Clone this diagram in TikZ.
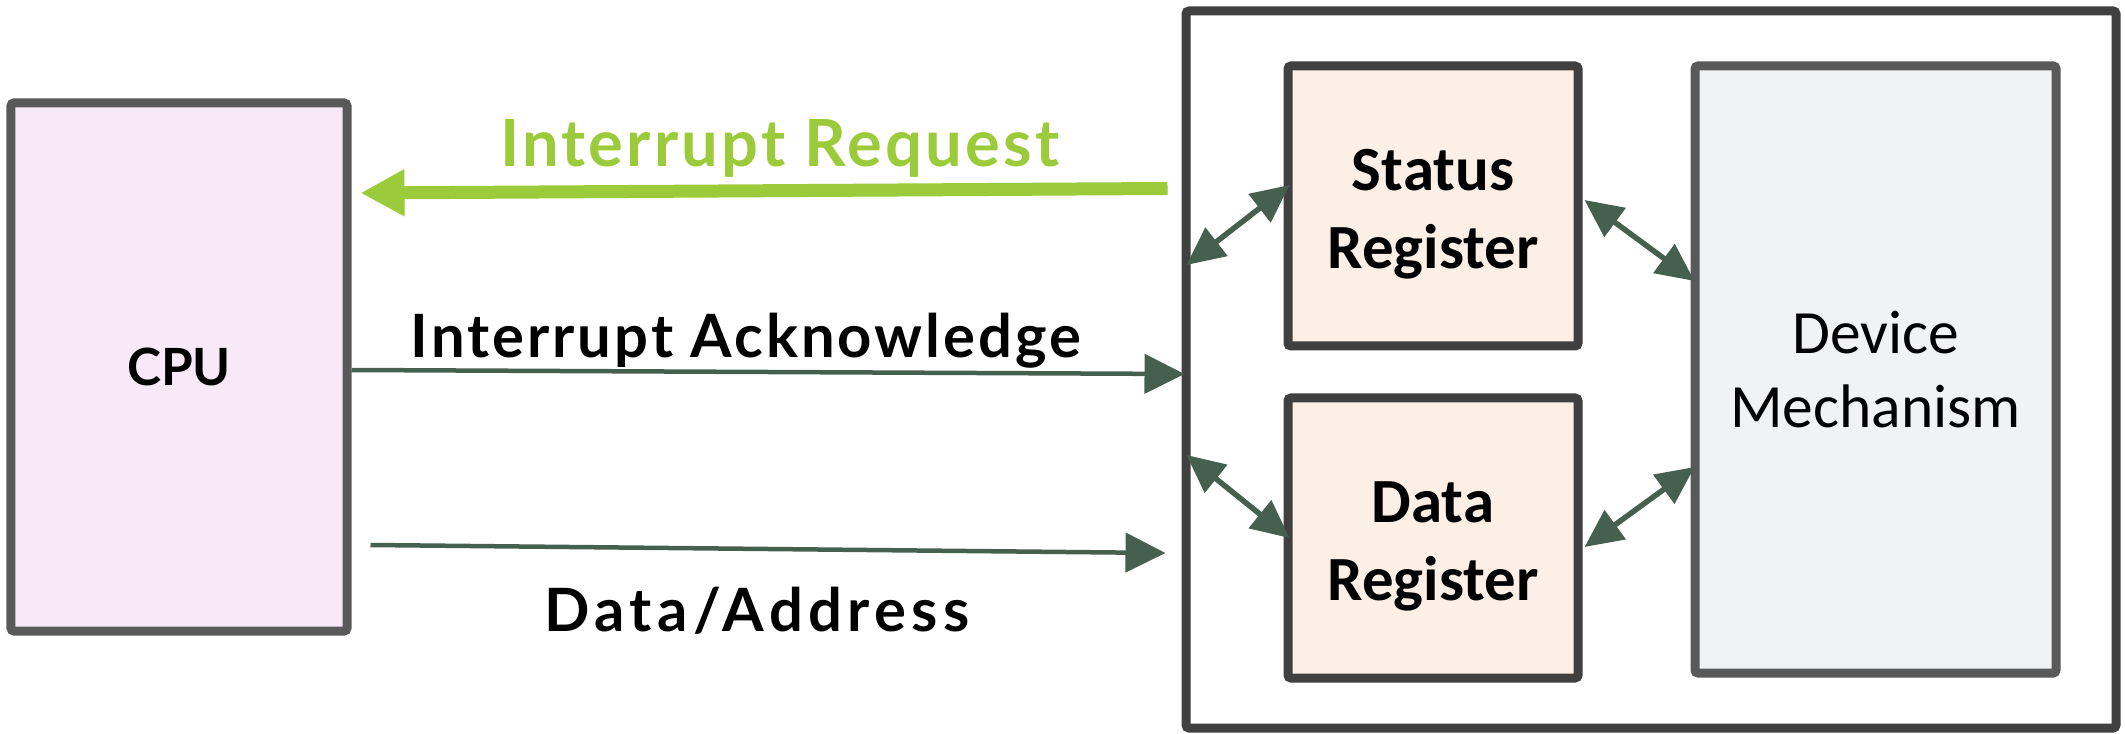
\documentclass[tikz,border=0pt]{standalone}
\usepackage{fontspec}
\setmainfont{Lato}
\newfontfamily\lblfont[LetterSpace=5]{Lato}
\newfontfamily\regfont{Carlito}
\usetikzlibrary{arrows.meta}

\definecolor{cpufill}{HTML}{F8E9F8}
\definecolor{regfill}{HTML}{FCEFE6}
\definecolor{mechfill}{HTML}{F1F2F4}
\definecolor{boxgray}{HTML}{595959}
\definecolor{boxdark}{HTML}{404040}
\definecolor{irqgreen}{HTML}{9BCB3B}
\definecolor{busgreen}{HTML}{466050}

\begin{document}
\begin{tikzpicture}[>={Triangle[length=4mm,width=3.9mm]},
		box/.style={draw, line width=0.9mm, rounded corners=0.3mm, inner sep=0pt},
		regbox/.style={box, draw=boxdark, fill=regfill, minimum width=2.90cm, minimum height=2.80cm, align=center,
			text height=1.35cm, font=\regfont\bfseries\fontsize{17.9}{22}\selectfont},
		lbl/.style={anchor=base, inner sep=0pt, font=\lblfont\bfseries\fontsize{17}{20}\selectfont},
		busline/.style={->, busgreen, line width=0.45mm},
		dblarrow/.style={<->, busgreen, line width=0.55mm, >={Triangle[length=3.8mm,width=3.5mm]}}]

		\useasboundingbox (0,0) rectangle (21.25,7.33);

		% CPU und Geraet
		\node[box, draw=boxgray, fill=cpufill, minimum width=3.36cm, minimum height=5.28cm,
			font=\bfseries\fontsize{14.6}{17}\selectfont] (cpu) at (1.79,3.66) {CPU};
		\node[box, draw=boxdark, fill=white, minimum width=9.30cm, minimum height=7.17cm] (device) at (16.51,3.635) {};

		\node[regbox] (status) at (14.33,5.27) {Status\\Register};
		\node[regbox] (data) at (14.33,1.95) {Data\\Register};
		\node[box, draw=boxgray, fill=mechfill, minimum width=3.61cm, minimum height=6.07cm, align=center,
			font=\regfont\fontsize{17.5}{21.3}\selectfont] (mech) at (18.755,3.635) {Device\\Mechanism};

		% Leitungen zwischen CPU und Geraet
		\draw[->, irqgreen, line width=1.3mm, >={Triangle[length=4.4mm,width=4.4mm]}]
			([xshift=-1.4mm,yshift=18.1mm]device.west) -- ([xshift=0.9mm,yshift=17.4mm]cpu.east);
		\draw[busline] ([yshift=-0.3mm]cpu.east) -- ([xshift=0.3mm,yshift=-0.45mm]device.west);
		\draw[busline] ([xshift=1.9mm,yshift=-17.8mm]cpu.east) -- ([xshift=-1.6mm,yshift=-18.35mm]device.west);

		\node[lbl, text=irqgreen, font=\lblfont\bfseries\fontsize{18.5}{22}\selectfont] (irqlbl) at (7.80,5.66) {Interrupt Request};
		\node[lbl] (acklbl) at (7.46,3.75) {Interrupt Acknowledge};
		\node[lbl, font=\lblfont\bfseries\fontsize{17}{20}\selectfont\addfontfeature{LetterSpace=9}] (buslbl) at (7.57,1.02) {Data/Address};

		% Pfeile im Geraet
		\coordinate (sl) at ([xshift=0.5mm,yshift=10.45mm]device.west);
		\coordinate (dl) at ([xshift=0.5mm,yshift=-8.55mm]device.west);
		\coordinate (st) at ([xshift=0.6mm,yshift=2.1mm]status.west);
		\coordinate (dt) at ([xshift=0.6mm]data.west);
		\coordinate (sr) at ([xshift=0.2mm,yshift=0.6mm]status.east);
		\coordinate (dr) at ([xshift=0.2mm,yshift=-0.9mm]data.east);
		\coordinate (ms) at ([xshift=0.4mm,yshift=8.85mm]mech.west);
		\coordinate (md) at ([xshift=0.4mm,yshift=-9.75mm]mech.west);

		\foreach \a/\b in {sl/st, dl/dt, sr/ms, dr/md} {
				\draw[dblarrow] (\a) -- (\b);
			}
	\end{tikzpicture}
\end{document}
